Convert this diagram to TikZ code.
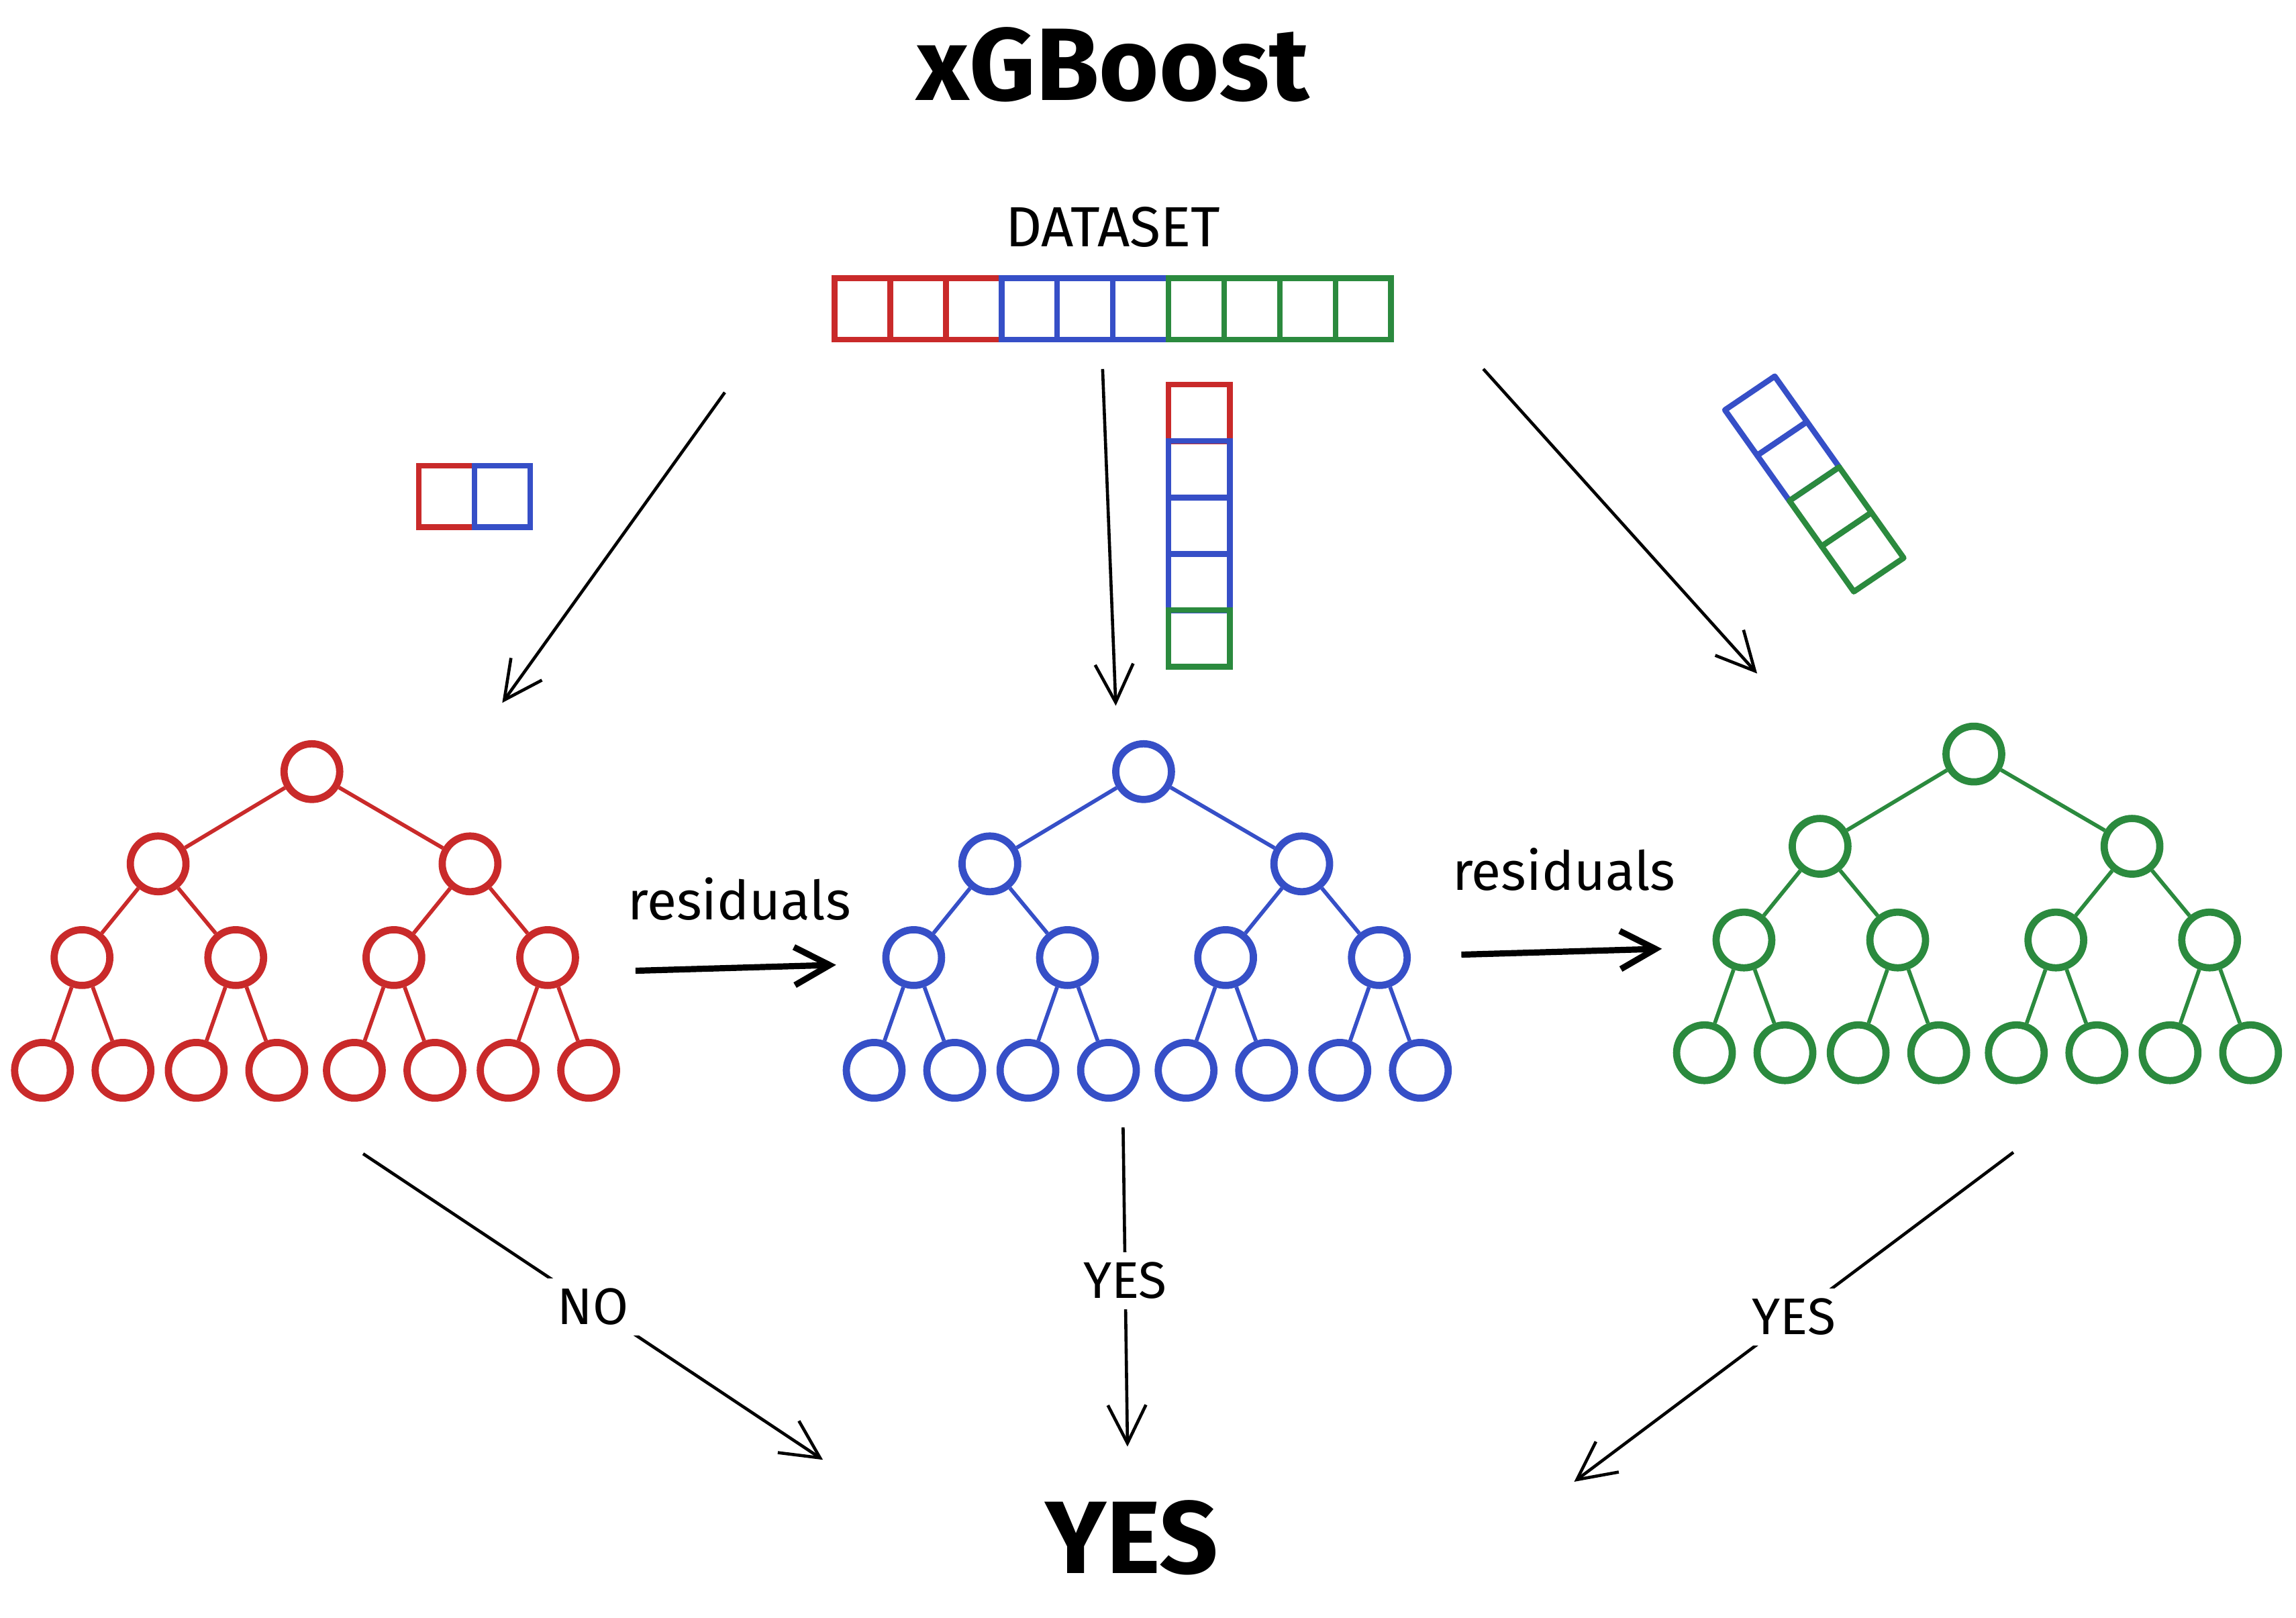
\documentclass[tikz,border=0pt]{standalone}
\usepackage{fontspec}
\setmainfont{Fira Sans}
\usetikzlibrary{arrows.meta}
\definecolor{GBRed}{HTML}{C92A2A}
\definecolor{GBBlue}{HTML}{364FC7}
\definecolor{GBGreen}{HTML}{2B8A3E}
\tikzset{
  gbcell/.style={
    draw=#1,
    line width=1.1pt,
    minimum width=0.38cm,
    minimum height=0.42cm,
    inner sep=0pt
  },
  gbcol/.style={
    draw=#1,
    line width=1.1pt,
    minimum width=0.42cm,
    minimum height=0.385cm,
    inner sep=0pt
  },
  gbnode/.style={circle,draw=#1,line width=1.4pt,minimum size=0.38cm,inner sep=0pt},
  gbedge/.style={draw=#1,line width=0.75pt},
  gbflow/.style={-{Straight Barb[length=2.6mm,width=2.6mm]},line width=0.6pt},
  gbthick/.style={-{Straight Barb[length=2.4mm,width=2.6mm]},line width=1.2pt},
  gbtext/.style={font=\fontsize{10.5}{12}\selectfont,inner sep=1pt},
  gblabel/.style={font=\fontsize{10}{12}\selectfont,fill=white,inner sep=2pt}
}
% one boosted tree: prefix, colour, root position
\newcommand{\gbtree}[4]{
  \node[gbnode=#2] (#1) at (#3,#4) {};
  \foreach \i/\dx in {1/-105,2/108} {
    \node[gbnode=#2] (#1\i) at ([shift={(\dx,63)}]#1.center) {};
    \draw[gbedge=#2] (#1) -- (#1\i);
    \foreach \j/\ex in {1/-52,2/53} {
      \node[gbnode=#2] (#1\i\j) at ([shift={(\ex,64)}]#1\i.center) {};
      \draw[gbedge=#2] (#1\i) -- (#1\i\j);
      \foreach \k/\fx in {1/-27,2/28} {
        \node[gbnode=#2] (#1\i\j\k) at ([shift={(\fx,77)}]#1\i\j.center) {};
        \draw[gbedge=#2] (#1\i\j) -- (#1\i\j\k);
      }
    }
  }
}
\begin{document}
\begin{tikzpicture}[x=0.01cm,y=-0.01cm]
  \useasboundingbox (0,0) rectangle (1568,1105);
  \node[font=\fontsize{20}{24}\selectfont\bfseries] (title) at (760,44) {xGBoost};
  \node[font=\fontsize{11}{13}\selectfont] (dslabel) at (760,155) {DATASET};
  % full dataset
  \foreach \i/\c in {1/GBRed,2/GBRed,3/GBRed,4/GBBlue,5/GBBlue,6/GBBlue,7/GBGreen,8/GBGreen,9/GBGreen,10/GBGreen}
    \node[gbcell=\c] (d\i) at ({551+38*\i},211) {};
  % samples
  \node[gbcell=GBRed] (s1) at (305,339) {};
  \node[gbcell=GBBlue] (s2) at (343,339) {};
  \foreach \i/\c in {1/GBRed,2/GBBlue,3/GBBlue,4/GBBlue,5/GBGreen}
    \node[gbcol=\c] (v\i) at (819,{243.5+38.5*\i}) {};
  \begin{scope}[shift={(1178,280)},x={(0.22cm,-0.31cm)},y={(0.34cm,0.23cm)}]
    \foreach \i/\c in {0/GBBlue,1/GBBlue,2/GBGreen,3/GBGreen}
      \draw[draw=\c,line width=1.1pt,line join=round] (\i,0) -- (\i+1,0) -- (\i+1,1) -- (\i,1) -- cycle;
  \end{scope}
  % trees
  \gbtree{r}{GBRed}{213}{527}
  \gbtree{b}{GBBlue}{781}{527}
  \gbtree{g}{GBGreen}{1348}{515}
  % flows
  \coordinate (f1s) at (495,268);
  \coordinate (f1e) at (343,480);
  \coordinate (f2s) at (753,252);
  \coordinate (f2e) at (762,482);
  \coordinate (f3s) at (1013,252);
  \coordinate (f3e) at (1200,460);
  \draw[gbflow] (f1s) -- (f1e);
  \draw[gbflow] (f2s) -- (f2e);
  \draw[gbflow] (f3s) -- (f3e);
  \node[gbtext] (res1) at (505,614) {residuals};
  \node[gbtext] (res2) at (1068,594) {residuals};
  \coordinate (r1s) at (434,663);
  \coordinate (r1e) at (571,659);
  \coordinate (r2s) at (998,652);
  \coordinate (r2e) at (1135,648);
  \draw[gbthick] (r1s) -- (r1e);
  \draw[gbthick] (r2s) -- (r2e);
  % votes
  \node[font=\fontsize{20}{24}\selectfont\bfseries] (result) at (773,1050) {YES};
  \coordinate (o1s) at (248,788);
  \coordinate (o1e) at (562,997);
  \coordinate (o2s) at (767,770);
  \coordinate (o2e) at (770,988);
  \coordinate (o3s) at (1375,787);
  \coordinate (o3e) at (1075,1012);
  \draw[gbflow] (o1s) -- node[gblabel] (vno) {NO} (o1e);
  \draw[gbflow] (o2s) -- node[gblabel,pos=0.48] (vyes1) {YES} (o2e);
  \draw[gbflow] (o3s) -- node[gblabel] (vyes2) {YES} (o3e);
\end{tikzpicture}
\end{document}
